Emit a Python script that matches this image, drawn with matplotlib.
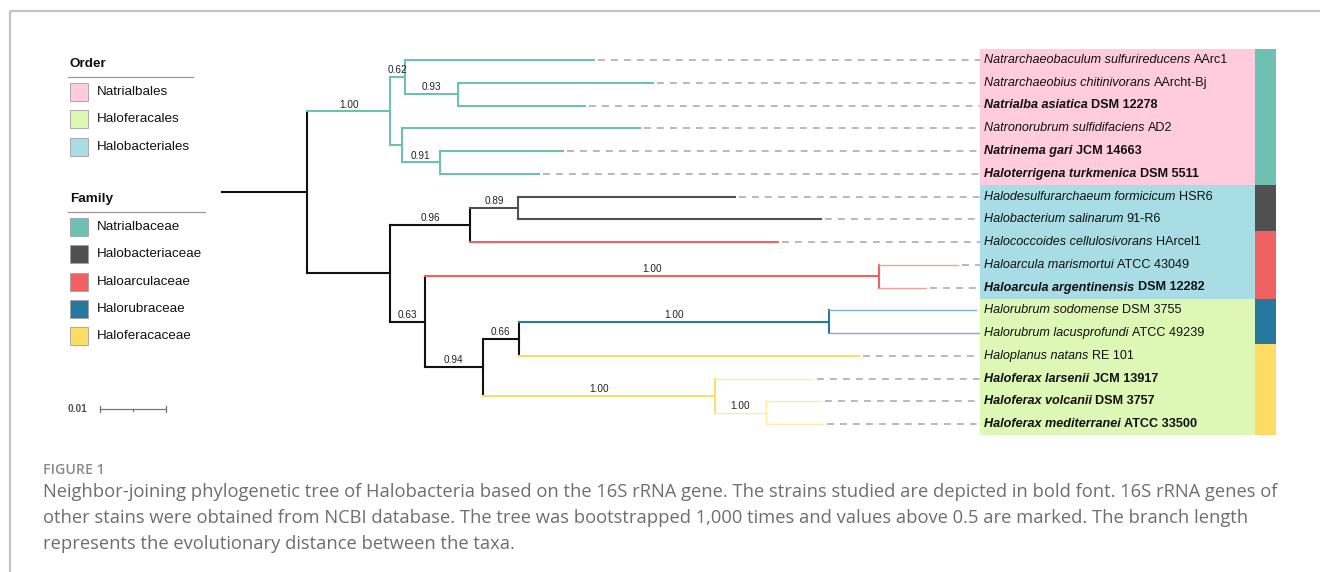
import matplotlib
matplotlib.use("Agg")
import matplotlib.pyplot as plt
from matplotlib.patches import Rectangle
from matplotlib.colors import to_rgb

plt.rcParams['font.family'] = ['Liberation Sans', 'DejaVu Sans']

# taxa in tree order (top to bottom)
species = [
    "Natrarchaeobaculum sulfurireducens", "Natrarchaeobius chitinivorans",
    "Natrialba asiatica", "Natronorubrum sulfidifaciens", "Natrinema gari",
    "Haloterrigena turkmenica", "Halodesulfurarchaeum formicicum",
    "Halobacterium salinarum", "Halococcoides cellulosivorans",
    "Haloarcula marismortui", "Haloarcula argentinensis",
    "Halorubrum sodomense", "Halorubrum lacusprofundi", "Haloplanus natans",
    "Haloferax larsenii", "Haloferax volcanii", "Haloferax mediterranei",
]
strains = [
    "AArc1", "AArcht-Bj", "DSM 12278", "AD2", "JCM 14663", "DSM 5511",
    "HSR6", "91-R6", "HArcel1", "ATCC 43049", "DSM 12282", "DSM 3755",
    "ATCC 49239", "RE 101", "JCM 13917", "DSM 3757", "ATCC 33500",
]
studied = [False, False, True, False, True, True, False, False, False,
           False, True, False, False, False, True, True, True]
orders = ["Natrialbales"] * 6 + ["Halobacteriales"] * 5 + ["Haloferacales"] * 6
families = (["Natrialbaceae"] * 6 + ["Halobacteriaceae"] * 2 +
            ["Haloarculaceae"] * 3 + ["Halorubraceae"] * 2 +
            ["Haloferacaceae"] * 4)

order_names = ["Natrialbales", "Haloferacales", "Halobacteriales"]
order_colors = ["#FFCCDD", "#DDF7B5", "#A8DDE5"]
family_names = ["Natrialbaceae", "Halobacteriaceae", "Haloarculaceae",
                "Halorubraceae", "Haloferacaceae"]
family_colors = ["#6DC0B2", "#505050", "#F06262", "#27789E", "#FDDC63"]

# NJ tree, tips are row indices, internal labels are bootstrap supports
tree_nwk = (
    "(((0:0.0286,(1:0.0295,2:0.0192)0.93:0.0080)0.62:0.0023,"
    "(3:0.0362,(4:0.0186,5:0.0150)0.91:0.0058):0.0017)1.00:0.0126,"
    "(((6:0.0329,7:0.0459)0.89:0.0073,8:0.0467)0.96:0.0121,"
    "((9:0.0120,10:0.0071)1.00:0.0688,"
    "(((11:0.0223,12:0.0245)1.00:0.0470,13:0.0515)0.66:0.0055,"
    "(14:0.0148,(15:0.0083,16:0.0086)1.00:0.0077)1.00:0.0352)0.94:0.0088)"
    "0.63:0.0052):0.0126):0.0129;"
)
scale_len = 0.01

caption_lines = [
    "Neighbor-joining phylogenetic tree of Halobacteria based on the 16S rRNA gene. "
    "The strains studied are depicted in bold font. 16S rRNA genes of",
    "other stains were obtained from NCBI database. The tree was bootstrapped "
    "1,000 times and values above 0.5 are marked. The branch length",
    "represents the evolutionary distance between the taxa.",
]


def parse_newick(s):
    pos = 0

    def node():
        nonlocal pos
        kids = []
        if s[pos] == '(':
            pos += 1
            kids.append(node())
            while s[pos] == ',':
                pos += 1
                kids.append(node())
            pos += 1
        start = pos
        while s[pos] not in ':,);':
            pos += 1
        label = s[start:pos]
        length = 0.0
        if s[pos] == ':':
            pos += 1
            start = pos
            while s[pos] not in ',);':
                pos += 1
            length = float(s[start:pos])
        return {'kids': kids, 'label': label, 'length': length}

    return node()


def layout(nd, x0):
    nd['x'] = x0 + nd['length']
    if nd['kids']:
        for k in nd['kids']:
            layout(k, nd['x'])
        nd['tips'] = [t for k in nd['kids'] for t in k['tips']]
        nd['y'] = (nd['kids'][0]['y'] + nd['kids'][-1]['y']) / 2
    else:
        nd['tips'] = [int(nd['label'])]
        nd['y'] = float(nd['label'])


def lighten(c, f=0.4):
    r, g, b = to_rgb(c)
    return (r + (1 - r) * f, g + (1 - g) * f, b + (1 - b) * f)


fam_col = dict(zip(family_names, family_colors))
genus = [s.split()[0] for s in species]


def node_color(nd):
    fams = {families[t] for t in nd['tips']}
    return fam_col[fams.pop()] if len(fams) == 1 else "#111111"


def genus_clade(nd):
    return len(nd['tips']) > 1 and len({genus[t] for t in nd['tips']}) == 1


root = parse_newick(tree_nwk)
layout(root, 0.0)

fig = plt.figure(figsize=(13.2, 5.72), dpi=100)

# pixel overlay for frame, legend and caption
ov = fig.add_axes([0, 0, 1, 1])
ov.set_xlim(0, 1320)
ov.set_ylim(572, 0)
ov.axis('off')

# tree axes: x in substitutions/site, y in rows
row_px = 22.75
top_px = 60 - row_px / 2
bot_px = 424 + row_px / 2
px_per_unit = 6600
ax = fig.add_axes([60 / 1320, 1 - bot_px / 572, 1216 / 1320, (bot_px - top_px) / 572])
ax.set_xlim(-162 / px_per_unit, 1054 / px_per_unit)
ax.set_ylim(len(species) - 0.5, -0.5)
ax.axis('off')
ax.patch.set_visible(False)

label_x0 = 758 / px_per_unit
strip_x0 = 1033 / px_per_unit
strip_x1 = 1054 / px_per_unit

LW = 1.5
LW_LIGHT = 1.0


def draw(nd, parent=None, inside_genus=False):
    col = node_color(nd)
    c_edge = lighten(col) if inside_genus else col
    w_edge = LW_LIGHT if inside_genus else LW
    px = parent['x'] if parent else 0.0
    ax.plot([px, nd['x']], [nd['y'], nd['y']], color=c_edge, lw=w_edge,
            solid_capstyle='projecting', zorder=3)
    if parent is not None and nd['kids'] and nd['label']:
        ax.annotate(nd['label'], ((px + nd['x']) / 2, nd['y']),
                    xytext=(0, 1.2), textcoords='offset points',
                    ha='center', va='bottom', fontsize=7.2, color='#222222',
                    zorder=5)
    if nd['kids']:
        ys = [k['y'] for k in nd['kids']]
        ax.plot([nd['x'], nd['x']], [min(ys), max(ys)], color=c_edge,
                lw=w_edge, solid_capstyle='projecting', zorder=3)
        inner = inside_genus or genus_clade(nd)
        for k in nd['kids']:
            draw(k, nd, inner)
    else:
        # dashed leader to the label column
        if nd['x'] < label_x0:
            ax.plot([nd['x'] + 4 / px_per_unit, label_x0], [nd['y'], nd['y']],
                    color='#A6A6A6', lw=1.1, ls=(0, (4.5, 4)), zorder=2)


draw(root)


def runs(values):
    out = []
    start = 0
    for i in range(1, len(values) + 1):
        if i == len(values) or values[i] != values[start]:
            out.append((values[start], start, i - 1))
            start = i
    return out


ord_col = dict(zip(order_names, order_colors))
for name, a, b in runs(orders):
    ax.add_patch(Rectangle((label_x0, a - 0.5), strip_x0 - label_x0, b - a + 1,
                           facecolor=ord_col[name], edgecolor='none', zorder=4))
for name, a, b in runs(families):
    ax.add_patch(Rectangle((strip_x0, a - 0.5), strip_x1 - strip_x0, b - a + 1,
                           facecolor=fam_col[name], edgecolor='none', zorder=4))

# tip labels: italic binomial followed by strain
for i, (sp, st) in enumerate(zip(species, strains)):
    wt = 'bold' if studied[i] else 'normal'
    t = ax.annotate(sp, (label_x0, i), xytext=(4, 0), textcoords='offset pixels',
                    ha='left', va='center', fontsize=9.1, fontstyle='italic',
                    fontweight=wt, color='#111111', zorder=6)
    ax.annotate(st, (1, 0.5), xycoords=t, xytext=(2.5, 0),
                textcoords='offset points', ha='left', va='center',
                fontsize=9.1, fontweight=wt, color='#111111', zorder=6)

# scale bar
sb_x0 = -122 / px_per_unit
sb_y = 15.34
ax.plot([sb_x0, sb_x0 + scale_len], [sb_y, sb_y], color='#777777', lw=0.9)
for xx in (sb_x0, sb_x0 + scale_len):
    ax.plot([xx, xx], [sb_y - 0.13, sb_y + 0.13], color='#777777', lw=0.9)
ax.plot([sb_x0 + scale_len / 2] * 2, [sb_y, sb_y + 0.07], color='#777777', lw=0.9)
ax.annotate(f"{scale_len:.2f}", (sb_x0, sb_y), xytext=(-13, 0),
            textcoords='offset pixels', ha='right', va='center',
            fontsize=7.4, fontweight='bold', color='#555555')

# frame
ov.plot([10, 1320], [11, 11], color='#C4C4C4', lw=1.6, solid_capstyle='butt')
ov.plot([10, 10], [11, 572], color='#C4C4C4', lw=1.6, solid_capstyle='butt')


def legend_block(title, names, colors, y_title, y_rule, y0, rule_x1):
    ov.text(70, y_title, title, fontsize=9.7, fontweight='bold',
            ha='left', va='center', color='#111111')
    ov.plot([68, rule_x1], [y_rule, y_rule], color='#999999', lw=0.9)
    for k, (n, c) in enumerate(zip(names, colors)):
        yc = y0 + k * 27.3
        ov.add_patch(Rectangle((70, yc - 9), 18, 18, facecolor=c,
                               edgecolor='#A0A0A0', lw=0.6))
        ov.text(97, yc, n, fontsize=9.7, ha='left', va='center', color='#111111')


legend_block("Order", order_names, order_colors, 64, 77, 92, 193)
legend_block("Family", family_names, family_colors, 199, 211.5, 227, 205)

# caption
ov.text(43, 474, "FIGURE 1", fontsize=10.2, fontweight='semibold',
        family='Open Sans', color='#8A8A8A', ha='left', va='baseline')
for k, line in enumerate(caption_lines):
    ov.text(43, 497 + 26 * k, line, fontsize=13.2, family='Open Sans',
            color='#6E6E6E', ha='left', va='baseline')

fig.savefig("out.png", dpi=100)
